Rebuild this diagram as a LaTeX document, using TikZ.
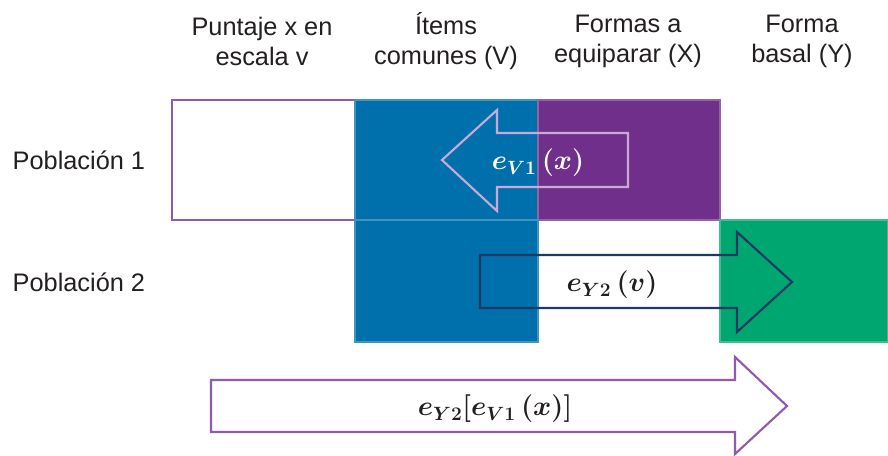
\documentclass[tikz,border=0pt]{standalone}
\usepackage{fontspec}
\setmainfont{Liberation Sans}
\usepackage{amsmath}
\usetikzlibrary{positioning}
\definecolor{txt}{HTML}{231F20}
\definecolor{cblue}{HTML}{0070AC}
\definecolor{cpurple}{HTML}{702F8A}
\definecolor{cgreen}{HTML}{00A66F}
\definecolor{lav}{HTML}{C9A9D8}
\definecolor{navy}{HTML}{1E3A60}
\definecolor{violet}{HTML}{8E5BAE}
\tikzset{
  cell/.style={draw=#1!75!white, fill=#1, line width=1.5pt},
  barrow/.style={draw=#1, line width=1.6pt, line join=miter},
  hdr/.style={font=\fontsize{19}{22.5}\selectfont, align=center, text=txt},
  pop/.style={font=\fontsize{19}{22.5}\selectfont, anchor=west, text=txt},
  eq/.style={font=\fontsize{22}{26}\selectfont\boldmath, text=#1},
  eq/.default=txt,
}

\begin{document}
\begin{tikzpicture}[x=0.75pt,y=-0.75pt]
  \useasboundingbox (0,0) rectangle (888,455);
  % column headers
  \node[hdr] (hscore) at (262,41) {Puntaje x en\\escala v};
  \node[hdr] (hcommon) at (446,41) {Ítems\\comunes (V)};
  \node[hdr] (hnew) at (628,41) {Formas a\\equiparar (X)};
  \node[hdr] (hbase) at (802,41) {Forma\\basal (Y)};
  % row labels
  \node[pop] (pop1) at (8,160) {Población 1};
  \node[pop] (pop2) at (8,282) {Población 2};
  % cells
  \draw[violet, line width=1.5pt] (172,100) rectangle (355,220);
  \path[cell=cblue] (355,100) rectangle (538,220);
  \path[cell=cpurple] (538,100) rectangle (720,220);
  \path[cell=cblue] (355,220) rectangle (538,342);
  \path[cell=cgreen] (720,220) rectangle (888,342);
  % eV1 arrow
  \draw[barrow=lav] (628,133) -- (497,133) -- (497,110) -- (442,160)
    -- (497,211) -- (497,187) -- (628,187) -- cycle;
  \node[eq=white] (lv1) at (538,163) {$e_{V1}\,(x)$};
  % eY2 arrow
  \draw[barrow=navy] (480,255) -- (737,255) -- (737,232) -- (792,282)
    -- (737,332) -- (737,308) -- (480,308) -- cycle;
  \node[eq] (ly2) at (612,285) {$e_{Y2}\,(v)$};
  % composed arrow
  \draw[barrow=violet] (211,380) -- (735,380) -- (735,357) -- (787,406)
    -- (735,454) -- (735,432) -- (211,432) -- cycle;
  \node[eq] (lcomp) at (495,409) {$e_{Y2}[e_{V1}\,(x)]$};
\end{tikzpicture}
\end{document}
